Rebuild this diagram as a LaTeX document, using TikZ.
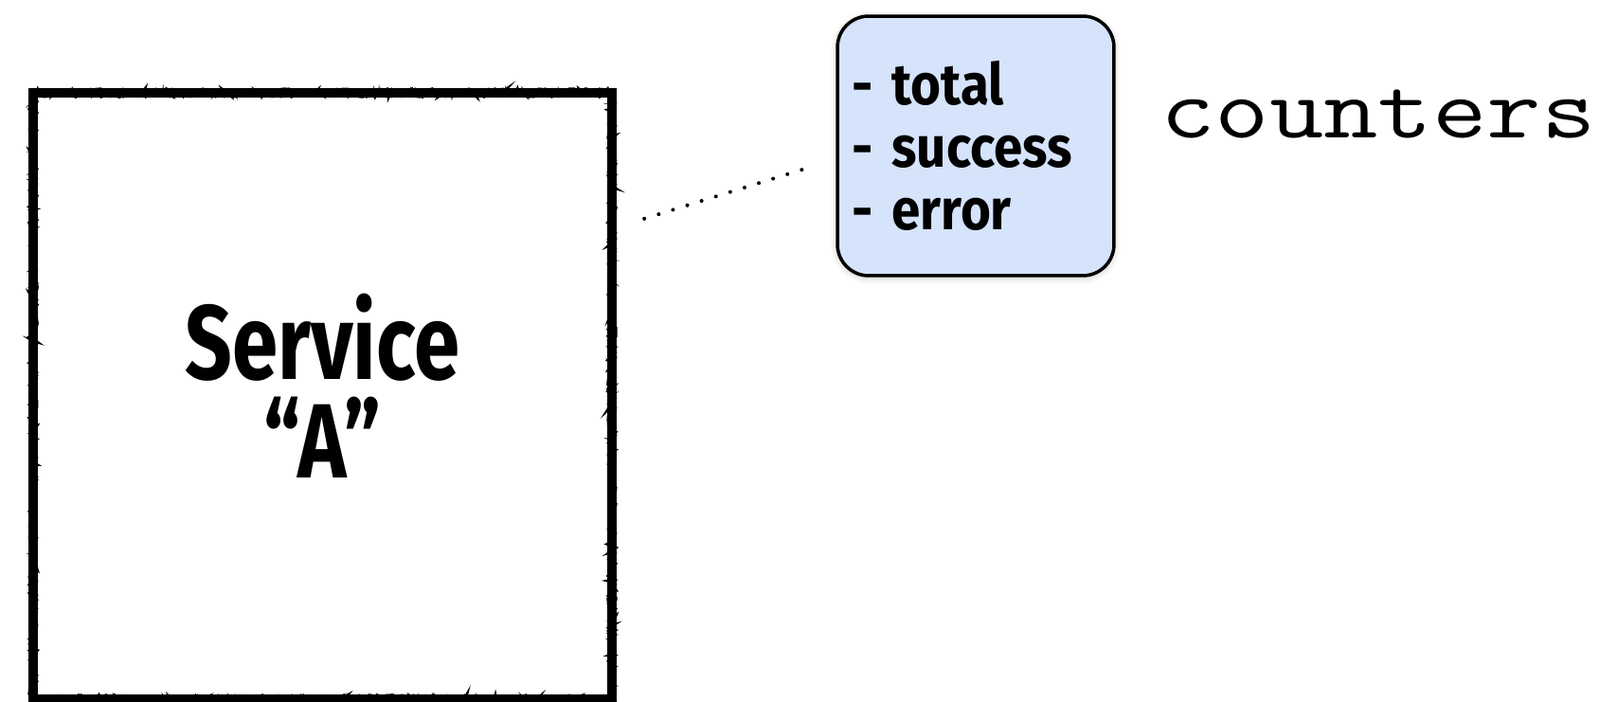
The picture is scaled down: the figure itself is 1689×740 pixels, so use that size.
\documentclass[tikz,border=0pt]{standalone}
\usepackage{fontspec}
\usepackage{graphicx}
\usetikzlibrary{calc,decorations.pathmorphing,shadows.blur}
\newfontfamily\markfont[FakeStretch=0.78]{Fira Sans}
\newfontfamily\listfont[FakeStretch=0.9]{Fira Sans}
\definecolor{cntblue}{HTML}{D5E3FB}

\begin{document}
\begin{tikzpicture}[x=0.02cm, y=-0.02cm,
    roughbox/.style={draw=black, line width=5.4pt, minimum width=12.22cm, minimum height=12.8cm,
      postaction={draw, decorate, decoration={random steps, segment length=2pt, amplitude=2.4pt}, line width=1.8pt},
      postaction={draw, decorate, decoration={random steps, segment length=1.2pt, amplitude=3pt}, line width=0.6pt}},
    svctext/.style={align=center, inner sep=0, font=\markfont\bfseries\fontsize{63.5pt}{59pt}\selectfont},
    listbox/.style={draw=black, line width=2pt, fill=cntblue, rounded corners=0.66cm,
      minimum width=5.84cm, minimum height=5.48cm, text width=5.24cm, align=left, inner sep=0.3cm,
      font=\listfont\bfseries\fontsize{34.6pt}{37.4pt}\selectfont,
      blur shadow={shadow xshift=0pt, shadow yshift=-1pt, shadow blur radius=4pt, shadow opacity=25}},
    dotline/.style={line width=2.3pt, line cap=round, dash pattern=on 0pt off 9pt,
      shorten <=17.6pt, shorten >=17.6pt}]
    \useasboundingbox (0,0) rectangle (1689,740);

    % Service box
    \node[roughbox] (svc) at (340.5,418) {};
    \node[svctext] (svcname) at ($(svc.center)+(0,-11)$) {Service\\“A”};

    % Counter list
    \node[listbox] (cnt) at (1030,154) {- total\\- success\\- error};
    \node[anchor=base west, inner sep=0] (lbl) at (1225,145)
      {\scalebox{1.22}[1]{\fontsize{52pt}{52pt}\selectfont\ttfamily counters}};

    % Link
    \draw[dotline] ($(svc.east)+(0,-178)$) -- ($(cnt.west)+(0,14)$);
\end{tikzpicture}
\end{document}
